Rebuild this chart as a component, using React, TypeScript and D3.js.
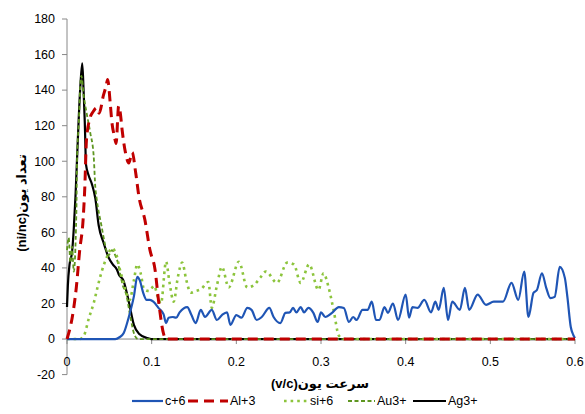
import React from "react";
import * as d3 from "d3";

const xTicks = [0, 0.1, 0.2, 0.3, 0.4, 0.5, 0.6];
const xTickLabels = ["0", "0.1", "0.2", "0.3", "0.4", "0.5", "0.6"];
const yTicks = [-20, 0, 20, 40, 60, 80, 100, 120, 140, 160, 180];

const seriesNames = ["c+6", "Al+3", "si+6", "Au3+", "Ag3+"];

const c6: [number, number][] = [
  [0, 0], [0.057, 0], [0.062, 1], [0.067, 3.4], [0.073, 12.4], [0.079, 24], [0.083, 35], [0.086, 33],
  [0.09, 26], [0.094, 22], [0.098, 22], [0.102, 21], [0.108, 17.5], [0.114, 14], [0.117, 9], [0.12, 12],
  [0.125, 12.4], [0.129, 12], [0.133, 15], [0.142, 18], [0.147, 13.5], [0.152, 9], [0.158, 16.4],
  [0.163, 12.4], [0.171, 16.4], [0.177, 10.7], [0.183, 13.5], [0.189, 15], [0.193, 8], [0.2, 13.5],
  [0.206, 12], [0.213, 17.5], [0.218, 16.4], [0.224, 10.7], [0.23, 12.4], [0.239, 17.5], [0.244, 12.4],
  [0.252, 9], [0.258, 14.7], [0.263, 15], [0.267, 17.5], [0.271, 15], [0.276, 18], [0.28, 15],
  [0.285, 17.5], [0.291, 14.7], [0.296, 9.6], [0.3, 15], [0.305, 12.4], [0.313, 14.7], [0.321, 18],
  [0.327, 17.5], [0.333, 9.6], [0.338, 12.4], [0.342, 10.7], [0.349, 16.4], [0.355, 16.4], [0.36, 21],
  [0.365, 10.7], [0.369, 10.7], [0.375, 18], [0.379, 14.7], [0.385, 20], [0.391, 10.7], [0.4, 25],
  [0.404, 12], [0.408, 18], [0.414, 17.5], [0.422, 22], [0.43, 15], [0.435, 21], [0.439, 16.4],
  [0.445, 28.8], [0.45, 10.7], [0.455, 21], [0.464, 16.4], [0.47, 28.8], [0.475, 16.4], [0.485, 25],
  [0.495, 19.2], [0.504, 21], [0.515, 21], [0.525, 31.6], [0.533, 22], [0.54, 38], [0.545, 12.4],
  [0.551, 26], [0.555, 27.6], [0.561, 37], [0.566, 28.8], [0.571, 23], [0.576, 23.7], [0.582, 40.6],
  [0.588, 34.4], [0.591, 23.7], [0.595, 6.8], [0.598, 2.3], [0.6, 0.5],
];

const al3: [number, number][] = [
  [0, 0], [0.0075, 16], [0.011, 29], [0.015, 50], [0.019, 67], [0.021, 85], [0.023, 112], [0.027, 124],
  [0.031, 128], [0.035, 130], [0.038, 127], [0.043, 137], [0.046, 142], [0.048, 146], [0.051, 133],
  [0.053, 122], [0.056, 114], [0.058, 110], [0.061, 131], [0.063, 127], [0.065, 118], [0.069, 105],
  [0.073, 99], [0.077, 105], [0.081, 94], [0.085, 80], [0.092, 67], [0.098, 50], [0.104, 39],
  [0.108, 22], [0.114, 3], [0.117, 0], [0.6, 0],
];

const si6: [number, number][] = [
  [0, 0], [0.015, 0], [0.02, 2], [0.026, 12], [0.032, 21], [0.036, 29], [0.041, 38], [0.047, 46],
  [0.053, 51], [0.058, 48], [0.062, 40], [0.066, 33], [0.07, 26], [0.074, 22], [0.079, 33], [0.083, 42],
  [0.087, 37], [0.091, 28], [0.097, 27], [0.103, 30], [0.107, 24], [0.111, 20], [0.117, 43.5],
  [0.121, 32], [0.126, 21], [0.131, 35], [0.136, 43], [0.141, 33], [0.146, 26], [0.152, 27],
  [0.158, 28], [0.167, 32], [0.171, 17.5], [0.177, 30], [0.183, 40.6], [0.191, 29], [0.203, 43.5],
  [0.213, 29], [0.22, 30], [0.229, 35], [0.235, 38], [0.248, 31.6], [0.26, 43], [0.268, 42],
  [0.276, 31.6], [0.286, 42], [0.297, 27.6], [0.303, 37], [0.309, 29], [0.315, 16], [0.321, 2],
  [0.327, 0], [0.6, 0],
];

const au3: [number, number][] = [
  [0, 50], [0.002, 57], [0.004, 43], [0.006, 52], [0.008, 38], [0.011, 70], [0.012, 103], [0.014, 122],
  [0.0155, 141], [0.017, 148], [0.0197, 137], [0.0236, 126], [0.0275, 116], [0.0315, 103], [0.0335, 85],
  [0.035, 79], [0.041, 63], [0.045, 53], [0.049, 47], [0.053, 50], [0.057, 47], [0.06, 43], [0.063, 36],
  [0.066, 30], [0.07, 25], [0.075, 12], [0.08, 2], [0.084, 0], [0.6, 0],
];

const ag3: [number, number][] = [
  [0, 18], [0.001, 30], [0.003, 42], [0.006, 49], [0.008, 62], [0.01, 80], [0.012, 103], [0.0155, 140],
  [0.018, 155], [0.0195, 141], [0.021, 122], [0.0225, 98], [0.0256, 92], [0.0295, 87], [0.0335, 79],
  [0.0374, 64], [0.0433, 54], [0.049, 46], [0.054, 42], [0.059, 39], [0.0615, 36], [0.0666, 33],
  [0.073, 21], [0.079, 8], [0.085, 3], [0.095, 0.5], [0.1, 0], [0.6, 0],
];

const W = 585;
const H = 414;
const FONT = "'Liberation Sans', 'DejaVu Sans', Arial, sans-serif";

const styles: Record<string, { color: string; width: number; dash?: string }> = {
  "c+6": { color: "#1F55B5", width: 2.2 },
  "Al+3": { color: "#C00000", width: 3, dash: "10,6" },
  "si+6": { color: "#8CC43C", width: 2.6, dash: "2.6,4" },
  "Au3+": { color: "#5E9620", width: 1.8, dash: "4,2.5" },
  "Ag3+": { color: "#000000", width: 2.2 },
};

export default function App() {
  const x = d3.scaleLinear().domain([0, 0.6]).range([67, 575]);
  const y = d3.scaleLinear().domain([-20, 180]).range([374.6, 19]);
  const line = d3
    .line<[number, number]>()
    .x((d) => x(d[0]))
    .y((d) => y(d[1]))
    .curve(d3.curveMonotoneX);

  const data: Record<string, [number, number][]> = {
    "c+6": c6,
    "Al+3": al3,
    "si+6": si6,
    "Au3+": au3,
    "Ag3+": ag3,
  };
  const drawOrder = ["Ag3+", "Au3+", "si+6", "c+6", "Al+3"];

  const legendX = [132, 188, 284, 348, 413];
  const legendLen = [31, 40, 24, 27, 33];

  return (
    <svg
      width={W}
      height={H}
      style={{ position: "absolute", left: 0, top: 0, background: "#fff" }}
      fontFamily={FONT}
    >
      <rect x={0} y={0} width={W} height={H} fill="#fff" />
      <line x1={x(0)} x2={x(0)} y1={y(-20)} y2={y(180)} stroke="#888" strokeWidth={1} />
      {yTicks.map((t) => (
        <g key={t}>
          <line x1={x(0) - 5} x2={x(0)} y1={y(t)} y2={y(t)} stroke="#888" />
          <text x={55} y={y(t)} dy="0.35em" textAnchor="end" fontSize={12.5} fill="#000">
            {t}
          </text>
        </g>
      ))}
      <line x1={x(0)} x2={x(0.6)} y1={y(0)} y2={y(0)} stroke="#888" strokeWidth={1} />
      {xTicks.map((t, i) => (
        <g key={t}>
          <line x1={x(t)} x2={x(t)} y1={y(0)} y2={y(0) + 5} stroke="#888" />
          <text x={x(t)} y={362} dy="0.35em" textAnchor="middle" fontSize={12.5} fill="#000">
            {xTickLabels[i]}
          </text>
        </g>
      ))}
      {drawOrder.map((name) => {
        const s = styles[name];
        return (
          <path
            key={name}
            d={line(data[name]) || ""}
            fill="none"
            stroke={s.color}
            strokeWidth={s.width}
            strokeDasharray={s.dash}
            strokeLinejoin="round"
          />
        );
      })}
      <text
        x={320}
        y={383}
        dy="0.35em"
        textAnchor="middle"
        fontSize={13}
        fontWeight="bold"
        direction="rtl"
        fill="#000"
      >
        سرعت یون(v/c)
      </text>
      <text
        transform={`translate(21,203) rotate(-90)`}
        textAnchor="middle"
        dy="0.35em"
        fontSize={13}
        fontWeight="bold"
        direction="rtl"
        fill="#000"
      >
        تعداد یون(ni/nc)
      </text>
      {seriesNames.map((name, i) => {
        const s = styles[name];
        const lx = legendX[i];
        const len = legendLen[i];
        return (
          <g key={name}>
            <line
              x1={lx}
              x2={lx + len}
              y1={401}
              y2={401}
              stroke={s.color}
              strokeWidth={s.width}
              strokeDasharray={s.dash}
            />
            <text x={lx + len + 2} y={401} dy="0.35em" fontSize={12.5} fill="#000">
              {name}
            </text>
          </g>
        );
      })}
    </svg>
  );
}
